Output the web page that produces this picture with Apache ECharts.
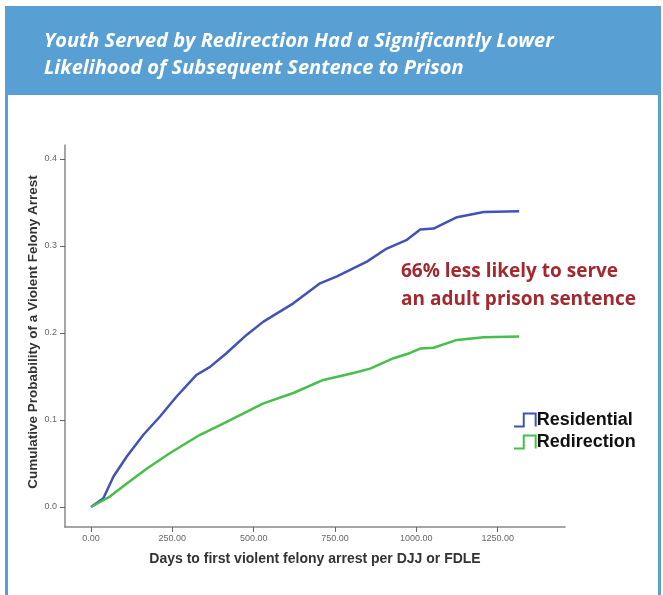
<!DOCTYPE html>
<html>
<head>
<meta charset="utf-8">
<script src="https://cdn.jsdelivr.net/npm/echarts@6/dist/echarts.min.js"></script>
<style>
  html, body { margin: 0; padding: 0; background: #fff; }
  #chart { width: 663px; height: 595px; }
</style>
</head>
<body>
<div id="chart"></div>
<script>
// days vs cumulative probability
const residentialDays = [0, 38, 69, 110, 161, 212, 263, 325, 366, 417, 479, 530, 622, 704, 756, 848, 909, 971, 1012, 1053, 1125, 1207, 1316];
const residentialProb = [0.0, 0.010, 0.035, 0.058, 0.083, 0.104, 0.127, 0.152, 0.161, 0.177, 0.198, 0.213, 0.234, 0.257, 0.265, 0.282, 0.297, 0.307, 0.319, 0.320, 0.333, 0.339, 0.340];
const redirectionDays = [0, 58, 110, 171, 243, 335, 397, 530, 622, 714, 807, 858, 930, 981, 1012, 1053, 1125, 1207, 1316];
const redirectionProb = [0.0, 0.012, 0.027, 0.044, 0.062, 0.083, 0.094, 0.119, 0.131, 0.146, 0.154, 0.159, 0.171, 0.177, 0.182, 0.183, 0.192, 0.195, 0.196];

const xTicks = [0, 250, 500, 750, 1000, 1250];
const yTicks = [0, 0.1, 0.2, 0.3, 0.4];

const blue = '#4352b5';
const green = '#46bf4b';
const stepIcon = 'path://M0,12 L9,12 L9,0 L20,0 L20,12';

function pairs(xs, ys) {
  let out = [];
  for (let i = 0; i < xs.length; ++i) out.push([xs[i], ys[i]]);
  return out;
}

var myChart = echarts.init(document.getElementById('chart'));
var option = {
  backgroundColor: '#fff',
  animation: false,
  title: {
    text: 'Youth Served by Redirection Had a Significantly Lower\nLikelihood of Subsequent Sentence to Prison',
    left: 39,
    top: 23,
    textStyle: {
      color: '#fff',
      fontFamily: 'Open Sans',
      fontStyle: 'italic',
      fontWeight: 'bold',
      fontSize: 20,
      lineHeight: 27
    }
  },
  graphic: [
    { type: 'rect', z: -1, shape: { x: 5, y: 6, width: 656, height: 89 }, style: { fill: '#589fd4' } },
    { type: 'rect', z: -1, shape: { x: 5, y: 95, width: 3, height: 500 }, style: { fill: '#589fd4' } },
    { type: 'rect', z: -1, shape: { x: 658, y: 95, width: 3, height: 500 }, style: { fill: '#589fd4' } },
    {
      type: 'text', left: 401, top: 258,
      style: {
        text: '66% less likely to serve\nan adult prison sentence',
        fill: '#a3282f',
        font: 'bold 19px "Open Sans"',
        lineHeight: 28
      }
    }
  ],
  legend: {
    orient: 'vertical',
    left: 508,
    top: 406,
    itemGap: 4,
    itemWidth: 22,
    itemHeight: 13,
    textStyle: { fontFamily: 'Liberation Sans', fontWeight: 'bold', fontSize: 18, color: '#111', padding: [0, 0, 0, -4] },
    data: [
      { name: 'Residential', icon: stepIcon, itemStyle: { color: 'transparent', borderColor: blue, borderWidth: 2 } },
      { name: 'Redirection', icon: stepIcon, itemStyle: { color: 'transparent', borderColor: green, borderWidth: 2 } }
    ]
  },
  grid: { left: 65, right: 98, top: 145, bottom: 68 },
  xAxis: {
    type: 'value',
    min: -80,
    max: 1457,
    name: 'Days to first violent felony arrest per DJJ or FDLE',
    nameLocation: 'middle',
    nameGap: 25,
    nameTextStyle: { fontFamily: 'Liberation Sans', fontWeight: 'bold', fontSize: 14, color: '#333' },
    axisLine: { onZero: false, lineStyle: { color: '#888', width: 1.5 } },
    axisTick: { show: true, length: 5, customValues: xTicks, lineStyle: { color: '#666' } },
    axisLabel: {
      customValues: xTicks,
      fontFamily: 'Liberation Sans',
      fontSize: 9,
      color: '#666',
      margin: 7,
      formatter: v => v.toFixed(2)
    },
    splitLine: { show: false }
  },
  yAxis: {
    type: 'value',
    min: -0.023,
    max: 0.416,
    name: 'Cumulative Probability of a Violent Felony Arrest',
    nameLocation: 'middle',
    nameGap: 25,
    nameMoveOverlap: false,
    nameTextStyle: { fontFamily: 'Liberation Sans', fontWeight: 'bold', fontSize: 13.5, color: '#333', padding: [0, 0, 0, 8] },
    axisLine: { show: true, onZero: false, lineStyle: { color: '#888', width: 1.5 } },
    axisTick: { show: true, length: 5, customValues: yTicks, lineStyle: { color: '#666' } },
    axisLabel: {
      customValues: yTicks,
      fontFamily: 'Liberation Sans',
      fontSize: 9,
      color: '#666',
      margin: 8,
      formatter: v => v.toFixed(1)
    },
    splitLine: { show: false }
  },
  series: [
    {
      name: 'Residential',
      type: 'line',
      data: pairs(residentialDays, residentialProb),
      showSymbol: false,
      color: blue,
      lineStyle: { width: 2.5 }
    },
    {
      name: 'Redirection',
      type: 'line',
      data: pairs(redirectionDays, redirectionProb),
      showSymbol: false,
      color: green,
      lineStyle: { width: 2.5 }
    }
  ]
};
option && myChart.setOption(option);
</script>
</body>
</html>
